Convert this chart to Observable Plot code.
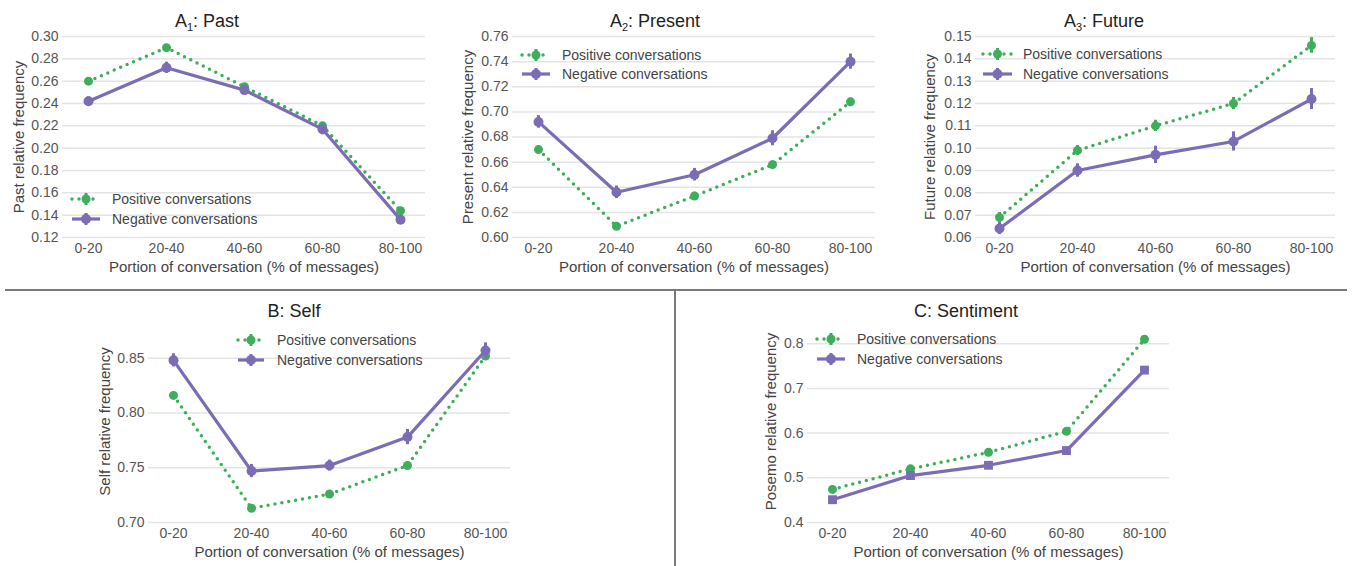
<!DOCTYPE html>
<html><head><meta charset="utf-8">
<script src="https://cdn.jsdelivr.net/npm/d3@7"></script>
<script src="https://cdn.jsdelivr.net/npm/@observablehq/plot@0.6"></script>
<style>
body{margin:0;background:#fff;}
#root{position:relative;width:1355px;height:566px;overflow:hidden;font-family:"Liberation Sans",Arial,Helvetica,sans-serif;background:#fff;}
#root svg{position:absolute;}
</style></head><body><div id="root"></div>
<script>
// ---------- data ----------
const portions = ["0-20", "20-40", "40-60", "60-80", "80-100"];
const seriesNames = ["Positive conversations", "Negative conversations"];
const xTitle = "Portion of conversation (% of messages)";

const pastPos = [0.260, 0.290, 0.255, 0.220, 0.144];
const pastNeg = [0.242, 0.272, 0.252, 0.217, 0.136];
const pastPosErr = [0.002, 0.002, 0.002, 0.002, 0.002];
const pastNegErr = [0.004, 0.005, 0.004, 0.005, 0.004];
const pastTicks = [0.12, 0.14, 0.16, 0.18, 0.20, 0.22, 0.24, 0.26, 0.28, 0.30];

const presentPos = [0.670, 0.609, 0.633, 0.658, 0.708];
const presentNeg = [0.692, 0.636, 0.650, 0.679, 0.740];
const presentPosErr = [0.003, 0.003, 0.003, 0.003, 0.003];
const presentNegErr = [0.005, 0.005, 0.005, 0.006, 0.006];
const presentTicks = [0.60, 0.62, 0.64, 0.66, 0.68, 0.70, 0.72, 0.74, 0.76];

const futurePos = [0.069, 0.099, 0.110, 0.120, 0.146];
const futureNeg = [0.064, 0.090, 0.097, 0.103, 0.122];
const futurePosErr = [0.0022, 0.0022, 0.0025, 0.0027, 0.0035];
const futureNegErr = [0.0027, 0.003, 0.0039, 0.0043, 0.0047];
const futureTicks = [0.06, 0.07, 0.08, 0.09, 0.10, 0.11, 0.12, 0.13, 0.14, 0.15];

const selfPos = [0.816, 0.713, 0.726, 0.752, 0.852];
const selfNeg = [0.848, 0.747, 0.752, 0.778, 0.857];
const selfPosErr = [0.003, 0.003, 0.003, 0.003, 0.003];
const selfNegErr = [0.006, 0.006, 0.005, 0.007, 0.007];
const selfTicks = [0.70, 0.75, 0.80, 0.85];

const posemoPos = [0.474, 0.520, 0.557, 0.604, 0.810];
const posemoNeg = [0.451, 0.505, 0.528, 0.561, 0.741];
const posemoPosErr = [0.002, 0.002, 0.002, 0.002, 0.002];
const posemoNegErr = [0.002, 0.002, 0.002, 0.002, 0.002];
const posemoTicks = [0.4, 0.5, 0.6, 0.7, 0.8];

// ---------- styles ----------
const GREEN = "#3fae5c";
const PURPLE = "#7c6cb6";
const FONT = "'Liberation Sans', Arial, Helvetica, sans-serif";

const panels = [
  {left: 0, top: 0, width: 440, height: 280, mt: 36, mb: 43, ml: 62, mr: 15,
   domain: [0.12, 0.30], ticks: pastTicks, fmt: ".2f", ylabel: "Past relative frequency", yOff: 49,
   pos: pastPos, neg: pastNeg, posErr: pastPosErr, negErr: pastNegErr, negSymbol: "circle"},
  {left: 450, top: 0, width: 440, height: 280, mt: 36, mb: 43, ml: 62, mr: 15,
   domain: [0.60, 0.76], ticks: presentTicks, fmt: ".2f", ylabel: "Present relative frequency", yOff: 50,
   pos: presentPos, neg: presentNeg, posErr: presentPosErr, negErr: presentNegErr, negSymbol: "circle"},
  {left: 900, top: 0, width: 450, height: 280, mt: 36, mb: 43, ml: 75, mr: 15,
   domain: [0.06, 0.15], ticks: futureTicks, fmt: ".2f", ylabel: "Future relative frequency", yOff: 51,
   pos: futurePos, neg: futureNeg, posErr: futurePosErr, negErr: futureNegErr, negSymbol: "circle"},
  {left: 0, top: 290, width: 530, height: 276, mt: 30, mb: 44, ml: 148, mr: 20,
   domain: [0.70, 0.8844], ticks: selfTicks, fmt: ".2f", ylabel: "Self relative frequency", yOff: 49,
   pos: selfPos, neg: selfNeg, posErr: selfPosErr, negErr: selfNegErr, negSymbol: "circle"},
  {left: 680, top: 290, width: 510, height: 276, mt: 30, mb: 44, ml: 127, mr: 21,
   domain: [0.4, 0.852], ticks: posemoTicks, fmt: ".1f", ylabel: "Posemo relative frequency", yOff: 42,
   pos: posemoPos, neg: posemoNeg, posErr: posemoPosErr, negErr: posemoNegErr, negSymbol: "square"}
];

const root = document.getElementById("root");

for (const p of panels) {
  const rows = [];
  portions.forEach((c, i) => {
    rows.push({portion: c, s: "pos", v: p.pos[i], e: p.posErr[i]});
    rows.push({portion: c, s: "neg", v: p.neg[i], e: p.negErr[i]});
  });
  const posRows = rows.filter(d => d.s === "pos");
  const negRows = rows.filter(d => d.s === "neg");
  const chart = Plot.plot({
    width: p.width, height: p.height,
    marginTop: p.mt, marginBottom: p.mb, marginLeft: p.ml, marginRight: p.mr,
    style: {fontFamily: FONT, fontSize: "14px", color: "#555", background: "transparent", overflow: "visible"},
    x: {type: "point", domain: portions, padding: 0.3},
    y: {domain: p.domain},
    marks: [
      Plot.gridY(p.ticks, {stroke: "#e4e4e4", strokeOpacity: 1, strokeWidth: 1.5}),
      Plot.axisY({ticks: p.ticks, tickFormat: d3.format(p.fmt), tickSize: 0, tickPadding: 4, fontSize: 14,
        label: p.ylabel, labelAnchor: "center", labelOffset: p.yOff, labelArrow: false}),
      Plot.axisX({tickSize: 0, tickPadding: 6, fontSize: 14,
        label: xTitle, labelAnchor: "center", labelOffset: 34, labelArrow: false}),
      Plot.line(posRows, {x: "portion", y: "v", stroke: GREEN, strokeWidth: 3.5, strokeDasharray: "0,7", strokeLinecap: "round"}),
      Plot.ruleX(posRows, {x: "portion", y1: d => d.v - d.e, y2: d => d.v + d.e, stroke: GREEN, strokeWidth: 3}),
      Plot.dot(posRows, {x: "portion", y: "v", r: 4.5, fill: GREEN, stroke: "none"}),
      Plot.line(negRows, {x: "portion", y: "v", stroke: PURPLE, strokeWidth: 3.2}),
      Plot.ruleX(negRows, {x: "portion", y1: d => d.v - d.e, y2: d => d.v + d.e, stroke: PURPLE, strokeWidth: 3}),
      Plot.dot(negRows, {x: "portion", y: "v", r: 5, fill: PURPLE, stroke: "none", symbol: p.negSymbol})
    ]
  });
  // axis titles are slightly larger than tick labels in the reference
  chart.querySelectorAll('[aria-label="x-axis label"], [aria-label="y-axis label"]').forEach(g => {
    g.setAttribute("font-size", 15);
    g.querySelectorAll("text").forEach(t => t.setAttribute("font-size", 15));
    g.setAttribute("fill", "#444");
  });
  chart.style.left = p.left + "px";
  chart.style.top = p.top + "px";
  root.appendChild(chart);
}

// ---------- overlay: titles, legends, separators ----------
const ov = d3.select(root).append("svg")
  .attr("width", 1355).attr("height", 566)
  .style("left", "0px").style("top", "0px").style("pointer-events", "none")
  .style("font-family", FONT);

ov.append("line").attr("x1", 5).attr("x2", 1347).attr("y1", 290).attr("y2", 290)
  .attr("stroke", "#7a7a7a").attr("stroke-width", 2);
ov.append("line").attr("x1", 675).attr("x2", 675).attr("y1", 290).attr("y2", 566)
  .attr("stroke", "#7a7a7a").attr("stroke-width", 2);

const titles = [
  {x: 207, y: 27, main: "A", sub: "1", rest: ": Past"},
  {x: 655, y: 27, main: "A", sub: "2", rest: ": Present"},
  {x: 1104, y: 27, main: "A", sub: "3", rest: ": Future"},
  {x: 294, y: 317, main: "B: Self", sub: "", rest: ""},
  {x: 966, y: 317, main: "C: Sentiment", sub: "", rest: ""}
];
for (const t of titles) {
  const tx = ov.append("text").attr("x", t.x).attr("y", t.y).attr("text-anchor", "middle")
    .attr("font-size", 18).attr("fill", "#222");
  tx.append("tspan").text(t.main);
  if (t.sub) {
    tx.append("tspan").attr("font-size", 11).attr("dy", 4).text(t.sub);
    tx.append("tspan").attr("dy", -4).text(t.rest);
  }
}

const legends = [
  {x1: 72, x2: 100, tx: 112, yp: 199, yn: 219},
  {x1: 522, x2: 550, tx: 562, yp: 55, yn: 74},
  {x1: 983, x2: 1012, tx: 1023, yp: 54, yn: 74},
  {x1: 238, x2: 264, tx: 277, yp: 340, yn: 360},
  {x1: 817, x2: 845, tx: 857, yp: 339, yn: 359}
];
for (const L of legends) {
  const cx = (L.x1 + L.x2) / 2;
  // positive
  ov.append("line").attr("x1", L.x1).attr("x2", L.x2).attr("y1", L.yp).attr("y2", L.yp)
    .attr("stroke", GREEN).attr("stroke-width", 3.5).attr("stroke-dasharray", "0,7").attr("stroke-linecap", "round");
  ov.append("line").attr("x1", cx).attr("x2", cx).attr("y1", L.yp - 6).attr("y2", L.yp + 6)
    .attr("stroke", GREEN).attr("stroke-width", 3);
  ov.append("circle").attr("cx", cx).attr("cy", L.yp).attr("r", 4.5).attr("fill", GREEN);
  ov.append("text").attr("x", L.tx).attr("y", L.yp).attr("dy", "0.35em").attr("font-size", 14)
    .attr("fill", "#444").text(seriesNames[0]);
  // negative
  ov.append("line").attr("x1", L.x1).attr("x2", L.x2).attr("y1", L.yn).attr("y2", L.yn)
    .attr("stroke", PURPLE).attr("stroke-width", 3.2);
  ov.append("line").attr("x1", cx).attr("x2", cx).attr("y1", L.yn - 6).attr("y2", L.yn + 6)
    .attr("stroke", PURPLE).attr("stroke-width", 3);
  ov.append("circle").attr("cx", cx).attr("cy", L.yn).attr("r", 5).attr("fill", PURPLE);
  ov.append("text").attr("x", L.tx).attr("y", L.yn).attr("dy", "0.35em").attr("font-size", 14)
    .attr("fill", "#444").text(seriesNames[1]);
}
</script>
</body></html>
